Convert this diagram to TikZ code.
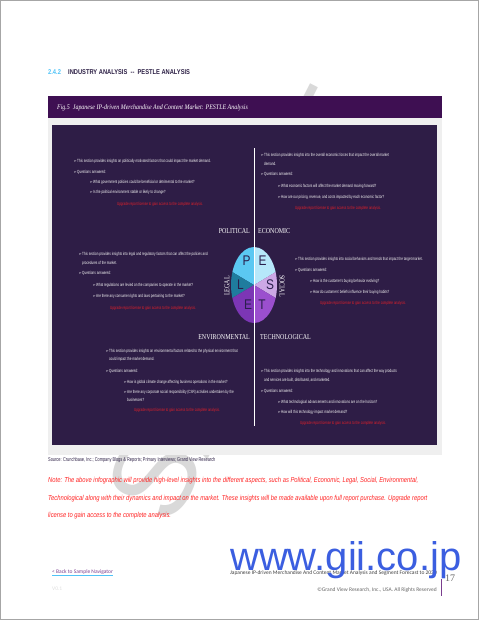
\documentclass[tikz,border=0pt]{standalone}
\usepackage{fontspec}
\setmainfont{Liberation Serif}
\newfontfamily\boxf[FakeStretch=0.68]{Liberation Sans}
\newfontfamily\headf[FakeStretch=0.82]{Liberation Sans}
\newfontfamily\figf[FakeStretch=0.85]{Liberation Serif}
\newfontfamily\quadf[FakeStretch=0.8]{Liberation Serif}
\newfontfamily\srcf[FakeStretch=0.71]{Liberation Sans}
\newfontfamily\notef[FakeStretch=0.81]{Liberation Sans}
\newfontfamily\letf{Liberation Sans}
\newfontfamily\pestf[FakeStretch=0.85]{Liberation Sans}
\newfontfamily\symf{DejaVu Sans}
\newfontfamily\footf{Carlito}

\definecolor{figbar}{HTML}{3E0F52}
\definecolor{boxpurple}{HTML}{2E1D46}
\definecolor{framegray}{HTML}{EFEFEF}
\definecolor{headblue}{HTML}{4FC3F7}
\definecolor{headdark}{HTML}{2B1E44}
\definecolor{upred}{HTML}{E0202A}
\definecolor{notered}{HTML}{FF2222}
\definecolor{colP}{HTML}{5BC8F2}
\definecolor{colE}{HTML}{B6E8FA}
\definecolor{colL}{HTML}{1F7C9E}
\definecolor{colS}{HTML}{CDA8E6}
\definecolor{colEn}{HTML}{7C36B5}
\definecolor{colT}{HTML}{9B4FCE}
\definecolor{letdark}{HTML}{2A1F4D}
\definecolor{giiblue}{HTML}{3B5EE0}
\definecolor{navpurple}{HTML}{7A3E8E}

\newcommand{\arrowbul}{\char"27A2}

\tikzset{
  txt/.style={text=white!92!gray, font=\boxf\fontsize{4.5}{5}\selectfont, inner sep=0pt, anchor=west},
  bul/.style={text=white, font=\symf\fontsize{3.8}{4}\selectfont, inner sep=0pt},
  pt/.style={txt, label distance=2.2pt, label={[bul]left:\arrowbul}},
  uptxt/.style={text=upred, font=\boxf\fontsize{4.5}{5}\selectfont, inner sep=0pt},
  quad/.style={text=white, font=\quadf\fontsize{7.5}{8}\selectfont, inner sep=0pt},
  letter/.style={text=letdark, font=\pestf\fontsize{14}{14}\selectfont, inner sep=0pt},
  head/.style={text=headdark, font=\headf\bfseries\fontsize{7}{8}\selectfont, inner sep=0pt, anchor=west},
  note/.style={text=notered, font=\notef\itshape\fontsize{7.2}{8}\selectfont, inner sep=0pt, anchor=west},
  foot/.style={text=gray!80!black, font=\footf\fontsize{5.5}{6}\selectfont, inner sep=0pt},
}

\begin{document}
\begin{tikzpicture}[x=1pt, y=-1pt]
\useasboundingbox (0,0) rectangle (480,621);

% Filigrana
\node[rotate=63, text=gray!30, font=\letf\fontsize{115}{115}\selectfont, inner sep=0pt] (wm) at (243,303) {SAMPLE};

% Titolo sezione
\node[head, text=headblue] (hnum) at (48,72) {2.4.2};
\node[head] (htitle) at (68,72) {INDUSTRY ANALYSIS \ -- \ PESTLE ANALYSIS};

% Barra della figura
\fill[figbar] (48,96) rectangle (442,118);
\node[text=white, font=\figf\itshape\fontsize{7}{8}\selectfont, inner sep=0pt, anchor=west] (ftitle) at (57,107.5)
  {Fig.5 \ Japanese IP-driven Merchandise And Content Market: PESTLE Analysis};

% Cornice e riquadro
\fill[framegray] (48,118) rectangle (442,455);
\fill[boxpurple] (52,125) rectangle (437,445);

% Ellisse PESTLE
\begin{scope}
\clip (254,285) ellipse [x radius=23, y radius=38];
\fill[colP]  (254,285) -- (254,240) -- (214,240) -- (214,261) -- cycle;
\fill[colL]  (254,285) -- (214,261) -- (214,309) -- cycle;
\fill[colEn] (254,285) -- (214,309) -- (214,330) -- (254,330) -- cycle;
\fill[colE]  (254,285) -- (254,240) -- (294,240) -- (294,261) -- cycle;
\fill[colS]  (254,285) -- (294,261) -- (294,309) -- cycle;
\fill[colT]  (254,285) -- (294,309) -- (294,330) -- (254,330) -- cycle;
\end{scope}
\node[letter] (lP)  at (246.5,261) {P};
\node[letter] (lE)  at (262.5,261) {E};
\node[letter] (lL)  at (240.5,285) {L};
\node[letter] (lS)  at (270,285) {S};
\node[letter] (lEn) at (248,305) {E};
\node[letter] (lT)  at (262,305) {T};

% Linea verticale
\coordinate (vtop) at (254,148);
\coordinate (vbot) at (254,426);
\draw[white, line width=0.8] (vtop) -- (vbot);

% Etichette dei quadranti
\node[quad, anchor=east] (qpol) at (250,231) {POLITICAL};
\node[quad, anchor=west] (qeco) at (258,231) {ECONOMIC};
\node[quad, anchor=east] (qenv) at (250,337) {ENVIRONMENTAL};
\node[quad, anchor=west] (qtec) at (260,337) {TECHNOLOGICAL};
\node[quad, rotate=90]   (qleg) at (227,286) {LEGAL};
\node[quad, rotate=-90]  (qsoc) at (282,286) {SOCIAL};

% Politico
\node[pt] (pol1) at (77,161) {This section provides insights on politically motivated factors that could impact the market demand.};
\node[pt] (pol2) at (77,172) {Questions answered:};
\node[pt] (pol3) at (93,182) {What government policies could be beneficial or detrimental to the market?};
\node[pt] (pol4) at (93,192) {Is the political environment stable or likely to change?};
\node[uptxt] (polup) at (160,204) {Upgrade report license to gain access to the complete analysis.};

% Economico
\node[pt]  (eco1) at (264,155) {This section provides insights into the overall economic forces that impact the overall market};
\node[txt] (eco1b) at (264,164) {demand.};
\node[pt]  (eco2) at (264,174) {Questions answered:};
\node[pt]  (eco3) at (281,186) {What economic factors will affect the market demand moving forward?};
\node[pt]  (eco4) at (281,197) {How are our pricing, revenue, and costs impacted by each economic factor?};
\node[uptxt] (ecoup) at (338,208) {Upgrade report license to gain access to the complete analysis.};

% Legale
\node[pt]  (leg1) at (82,254) {This section provides insights into legal and regulatory factors that can affect the policies and};
\node[txt] (leg1b) at (82,263) {procedures of the market.};
\node[pt]  (leg2) at (82,273) {Questions answered:};
\node[pt]  (leg3) at (96,285) {What regulations are levied on the companies to operate in the market?};
\node[pt]  (leg4) at (96,296) {Are there any consumer rights and laws pertaining to the market?};
\node[uptxt] (legup) at (153,308) {Upgrade report license to gain access to the complete analysis.};

% Sociale
\node[pt] (soc1) at (298,259) {This section provides insights into social behaviors and trends that impact the target market.};
\node[pt] (soc2) at (298,270) {Questions answered:};
\node[pt] (soc3) at (313,281) {How is the customer's buying behavior evolving?};
\node[pt] (soc4) at (313,292) {How do customers' beliefs influence their buying habits?};
\node[uptxt] (socup) at (363,303) {Upgrade report license to gain access to the complete analysis.};

% Ambientale
\node[pt]  (env1) at (109,351) {This section provides insights on environmental factors related to the physical environment that};
\node[txt] (env1b) at (109,359) {could impact the market demand.};
\node[pt]  (env2) at (109,371) {Questions answered:};
\node[pt]  (env3) at (127,382) {How is global climate change affecting business operations in the market?};
\node[pt]  (env4) at (127,392) {Are there any corporate social responsibility (CSR) activities undertaken by the};
\node[txt] (env4b) at (127,400) {businesses?};
\node[uptxt] (envup) at (177,410) {Upgrade report license to gain access to the complete analysis.};

% Tecnologico
\node[pt]  (tec1) at (264,371) {This section provides insights into the technology and innovations that can affect the way products};
\node[txt] (tec1b) at (264,380) {and services are built, distributed, and marketed.};
\node[pt]  (tec2) at (264,391) {Questions answered:};
\node[pt]  (tec3) at (281,402) {What technological advancements and innovations are on the horizon?};
\node[pt]  (tec4) at (281,412) {How will this technology impact market demand?};
\node[uptxt] (tecup) at (343,423) {Upgrade report license to gain access to the complete analysis.};

% Fonte e nota
\node[text=headdark, font=\srcf\fontsize{5.5}{6}\selectfont, inner sep=0pt, anchor=west] (src) at (48,460)
  {Source: Crunchbase, Inc.; Company Blogs \& Reports; Primary Interviews; Grand View Research};
\node[note] (note1) at (48,481) {Note: The above infographic will provide high-level insights into the different aspects, such as Political, Economic, Legal, Social, Environmental,};
\node[note] (note2) at (48,499) {Technological along with their dynamics and impact on the market. These insights will be made available upon full report purchase. Upgrade report};
\node[note] (note3) at (48,516) {license to gain access to the complete analysis.};

% Pie di pagina
\node[foot, text=navpurple, anchor=west] (back) at (52,572) {< Back to Sample Navigator};
\draw[headblue, line width=0.5] ([yshift=-1pt]back.south west) -- ([yshift=-1pt]back.south east);
\node[foot, text=gray!25, anchor=west] (ver) at (52,589) {V0.1};
\node[foot, text=black!75, anchor=east] (rtitle) at (437,573) {Japanese IP-driven Merchandise And Content Market Analysis and Segment Forecast to 2030};
\node[foot, anchor=east] (copy) at (437,590) {\char"00A9 Grand View Research, Inc., USA. All Rights Reserved};
\coordinate (pgtop) at (441,579);
\coordinate (pgbot) at (441,596);
\draw[navpurple, line width=0.8] (pgtop) -- (pgbot);
\node[text=gray!80!black, font=\fontsize{10}{10}\selectfont, inner sep=0pt, anchor=west] (pgno) at (445,578) {17};

% gii
\node[text=giiblue, font=\letf\fontsize{40}{40}\selectfont, inner sep=0pt, anchor=base west] (gii) at (230,570) {www.gii.co.jp};

% Bordo pagina
\draw[gray!70, line width=0.8] (0.5,0.5) rectangle (478,619);
\end{tikzpicture}
\end{document}
